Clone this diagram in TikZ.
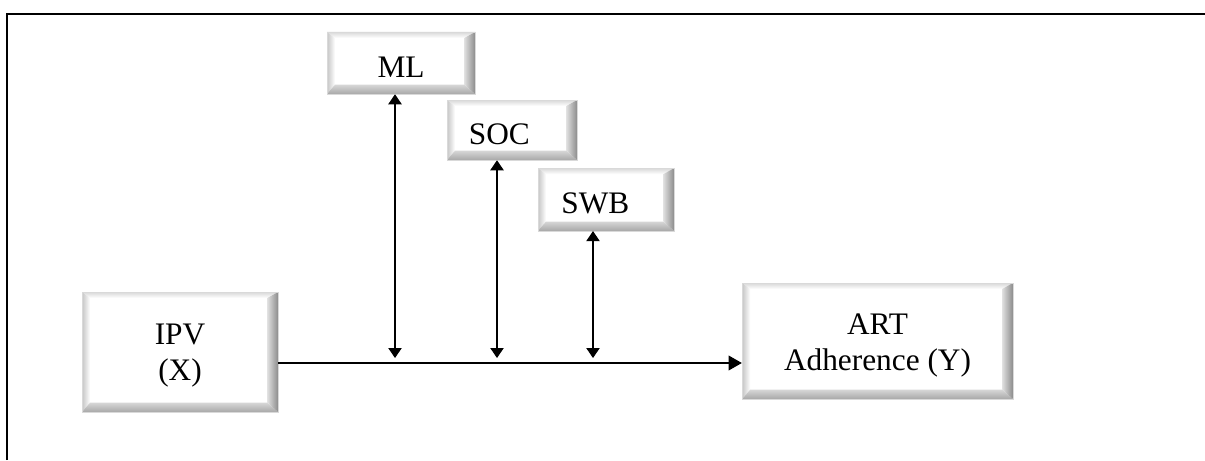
\documentclass[tikz,border=0pt]{standalone}
\usepackage{fontspec}
\setmainfont{Liberation Serif}
\usetikzlibrary{calc,arrows.meta}

% Bevelled face of a box: white centre, light top/left edges, dark right/bottom edges
\newcommand\bevelfill{%
  \path (path picture bounding box.south west) coordinate (bsw)
        (path picture bounding box.north east) coordinate (bne)
        (path picture bounding box.north west) coordinate (bnw)
        (path picture bounding box.south east) coordinate (bse);
  \fill[white] (bsw) rectangle (bne);
  % top edge
  \shade[top color=gray!30,bottom color=white]
    (bnw) -- (bne) -- ($(bne)+(-8pt,-4.5pt)$) -- ($(bnw)+(6pt,-4.5pt)$) -- cycle;
  % left edge
  \shade[left color=gray!45,right color=white]
    (bnw) -- ($(bnw)+(6pt,-4.5pt)$) -- ($(bsw)+(6pt,7pt)$) -- (bsw) -- cycle;
  % bottom edge
  \shade[top color=gray!32,bottom color=gray!68]
    (bsw) -- ($(bsw)+(6pt,7pt)$) -- ($(bse)+(-8pt,7pt)$) -- (bse) -- cycle;
  % right edge
  \shade[left color=gray!25,right color=gray!90]
    (bse) -- ($(bse)+(-8pt,7pt)$) -- ($(bne)+(-8pt,-4.5pt)$) -- (bne) -- cycle;
}

\tikzset{
  x=0.75pt, y=-0.75pt,
  box/.style={rectangle, inner sep=0pt, draw=gray!30, line width=0.4pt,
    path picture={\bevelfill}},
  boxtext/.style={align=center, inner sep=0pt,
    font=\fontsize{23.5}{27}\selectfont},
  link/.style={line width=0.8pt, {Triangle[width=10pt,length=7.5pt]}-{Triangle[width=10pt,length=7.5pt]}},
  flow/.style={line width=1.4pt, -{Triangle[width=11pt,length=10pt]}},
  frameline/.style={line width=1.4pt}
}

\begin{document}
\begin{tikzpicture}
\useasboundingbox (0,0) rectangle (1205,460);

% outer frame (top and left sides)
\draw[frameline] (7,460) -- (7,14) -- (1205,14);

% variables
\node[box, minimum width=111pt, minimum height=46.5pt,
  label={[boxtext, yshift=-3pt]center:ML}] (ml) at (401,63) {};
\node[box, minimum width=97.5pt, minimum height=45pt,
  label={[boxtext, yshift=-3pt, xshift=-9.5pt]center:SOC}] (soc) at (512,130) {};
\node[box, minimum width=102pt, minimum height=47pt,
  label={[boxtext, yshift=-3pt, xshift=-8pt]center:SWB}] (swb) at (606,199.5) {};
\node[box, minimum width=147pt, minimum height=90pt,
  label={[boxtext, yshift=-3pt]center:IPV\\(X)}] (ipv) at (180,352) {};
\node[box, minimum width=203pt, minimum height=87pt,
  label={[boxtext, yshift=-3pt]center:ART\\Adherence (Y)}] (art) at (877.5,341) {};

% main path X -> Y
\coordinate (mid) at (0,363);
\draw[flow] (ipv.east |- mid) -- (art.west |- mid);

% moderator links meeting the main path
\coordinate (mlfoot)  at (395,358);
\coordinate (socfoot) at (497,358);
\coordinate (swbfoot) at (593,358);
\draw[link] (mlfoot |- ml.south)   -- (mlfoot);
\draw[link] (socfoot |- soc.south) -- (socfoot);
\draw[link] (swbfoot |- swb.south) -- (swbfoot);
\end{tikzpicture}
\end{document}
